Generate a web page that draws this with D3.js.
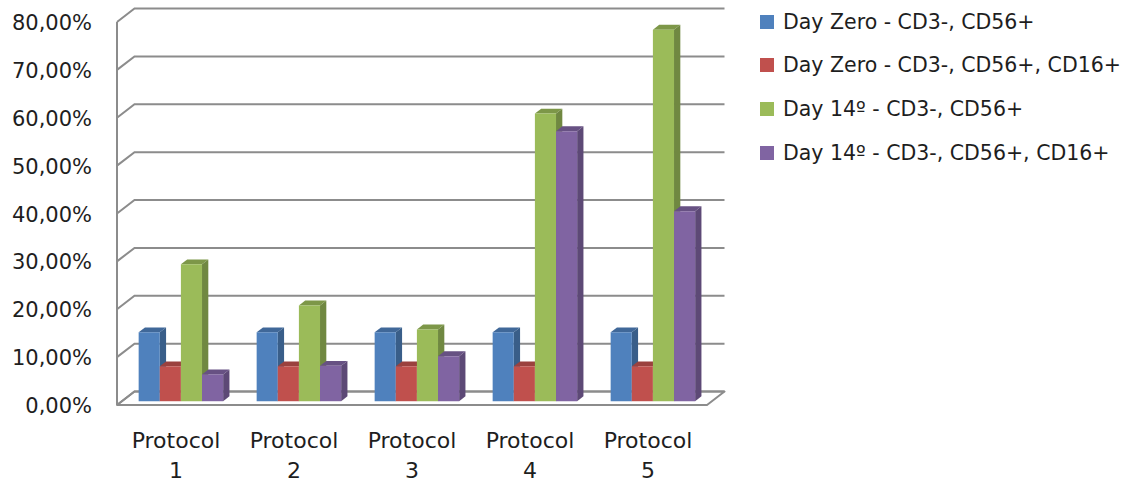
<!DOCTYPE html>
<html>
<head>
<meta charset="utf-8">
<script src="https://cdn.jsdelivr.net/npm/d3@7"></script>
<style>
  html, body { margin: 0; padding: 0; background: #fff; }
  svg { display: block; font-family: "DejaVu Sans", Verdana, sans-serif; }
</style>
</head>
<body>
<svg id="chart" width="1126" height="484"></svg>
<script>
// Categories, series and values (fractions of 1)
const categories = ["Protocol 1", "Protocol 2", "Protocol 3", "Protocol 4", "Protocol 5"];
const seriesNames = [
  "Day Zero - CD3-, CD56+",
  "Day Zero - CD3-, CD56+, CD16+",
  "Day 14º - CD3-, CD56+",
  "Day 14º - CD3-, CD56+, CD16+"
];
const dayZeroCD56 = [0.144, 0.144, 0.144, 0.144, 0.144];
const dayZeroCD56CD16 = [0.073, 0.073, 0.073, 0.073, 0.073];
const day14CD56 = [0.286, 0.200, 0.150, 0.601, 0.776];
const day14CD56CD16 = [0.056, 0.074, 0.094, 0.564, 0.397];
const seriesValues = [dayZeroCD56, dayZeroCD56CD16, day14CD56, day14CD56CD16];
const seriesColors = ["#4F81BD", "#C0504D", "#9BBB59", "#8064A2"];
const yTicks = [0, 0.1, 0.2, 0.3, 0.4, 0.5, 0.6, 0.7, 0.8];

const svg = d3.select("#chart");

// Front plane of the 3D box and its depth offset
const x0 = 117, x1 = 707, yBottom = 405, yTop = 22;
const DX = 17.5, DY = 13.5;
const barD0 = 0.28, barD1 = 0.64;   // bar depth within the box (0 = front, 1 = back)

const y = d3.scaleLinear().domain([0, 0.8]).range([yBottom, yTop]);
const xCat = d3.scaleBand().domain(categories).range([x0, x1]).padding(0);
const bw = xCat.bandwidth();
const xSer = d3.scaleBand().domain(d3.range(seriesNames.length))
  .range([bw * 0.142, bw * 0.858]).padding(0);

const P = (x, yy, d) => [x + d * DX, yy - d * DY];
const poly = pts => pts.map(p => p.join(",")).join(" ");

const gridColor = "#8c8c8c";

// Floor
const grid = svg.append("g");
grid.append("polygon")
  .attr("points", poly([P(x0, yBottom, 0), P(x1, yBottom, 0), P(x1, yBottom, 1), P(x0, yBottom, 1)]))
  .attr("fill", "#fff").attr("stroke", gridColor).attr("stroke-width", 2)
  .attr("stroke-linejoin", "round");

// Back-wall gridlines with the left-wall diagonal
grid.selectAll("polyline.grid").data(yTicks).join("polyline")
  .attr("class", "grid")
  .attr("points", t => poly([P(x0, y(t), 0), P(x0, y(t), 1), P(x1, y(t), 1)]))
  .attr("fill", "none").attr("stroke", gridColor).attr("stroke-width", 2);

// Vertical axis line
grid.append("line")
  .attr("x1", x0).attr("x2", x0).attr("y1", y(0.8)).attr("y2", yBottom)
  .attr("stroke", gridColor).attr("stroke-width", 2);

// Y-axis labels
const fmt = v => d3.format(".2f")(v * 100).replace(".", ",") + "%";
svg.append("g").selectAll("text").data(yTicks).join("text")
  .attr("x", 92).attr("y", t => y(t) + 2)
  .attr("text-anchor", "end").attr("dominant-baseline", "middle")
  .attr("font-size", 21).attr("fill", "#1e1e1e")
  .text(fmt);

// Bars
const bars = svg.append("g");
categories.forEach((cat, ci) => {
  seriesValues.forEach((vals, si) => {
    const v = vals[ci];
    const xl = xCat(cat) + xSer(si);
    const xr = xl + xSer.bandwidth();
    const yt = y(v), yb = y(0);
    const base = d3.color(seriesColors[si]);
    const side = d3.color(seriesColors[si]).darker(0.9);
    const top = d3.color(seriesColors[si]).darker(0.6);
    const g = bars.append("g");
    g.append("polygon")
      .attr("points", poly([P(xl, yt, barD0), P(xr, yt, barD0), P(xr, yt, barD1), P(xl, yt, barD1)]))
      .attr("fill", top);
    g.append("polygon")
      .attr("points", poly([P(xr, yt, barD0), P(xr, yb, barD0), P(xr, yb, barD1), P(xr, yt, barD1)]))
      .attr("fill", side);
    g.append("polygon")
      .attr("points", poly([P(xl, yt, barD0), P(xr, yt, barD0), P(xr, yb, barD0), P(xl, yb, barD0)]))
      .attr("fill", base);
  });
});

// X-axis labels (two lines)
const xl = svg.append("g");
categories.forEach(cat => {
  const parts = cat.split(" ");
  const cx = xCat(cat) + bw / 2;
  const t = xl.append("text").attr("text-anchor", "middle")
    .attr("font-size", 22).attr("fill", "#1e1e1e");
  t.append("tspan").attr("x", cx).attr("y", 448).text(parts[0]);
  t.append("tspan").attr("x", cx).attr("y", 478).text(parts[1]);
});

// Legend
const legend = svg.append("g");
const legendY = [22, 65, 109, 153];
seriesNames.forEach((name, i) => {
  legend.append("rect")
    .attr("x", 760).attr("y", legendY[i] - 7).attr("width", 14).attr("height", 14)
    .attr("fill", seriesColors[i]);
  legend.append("text")
    .attr("x", 783).attr("y", legendY[i] + 1)
    .attr("dominant-baseline", "middle")
    .attr("font-size", 20.5).attr("fill", "#1e1e1e")
    .text(name);
});
</script>
</body>
</html>
